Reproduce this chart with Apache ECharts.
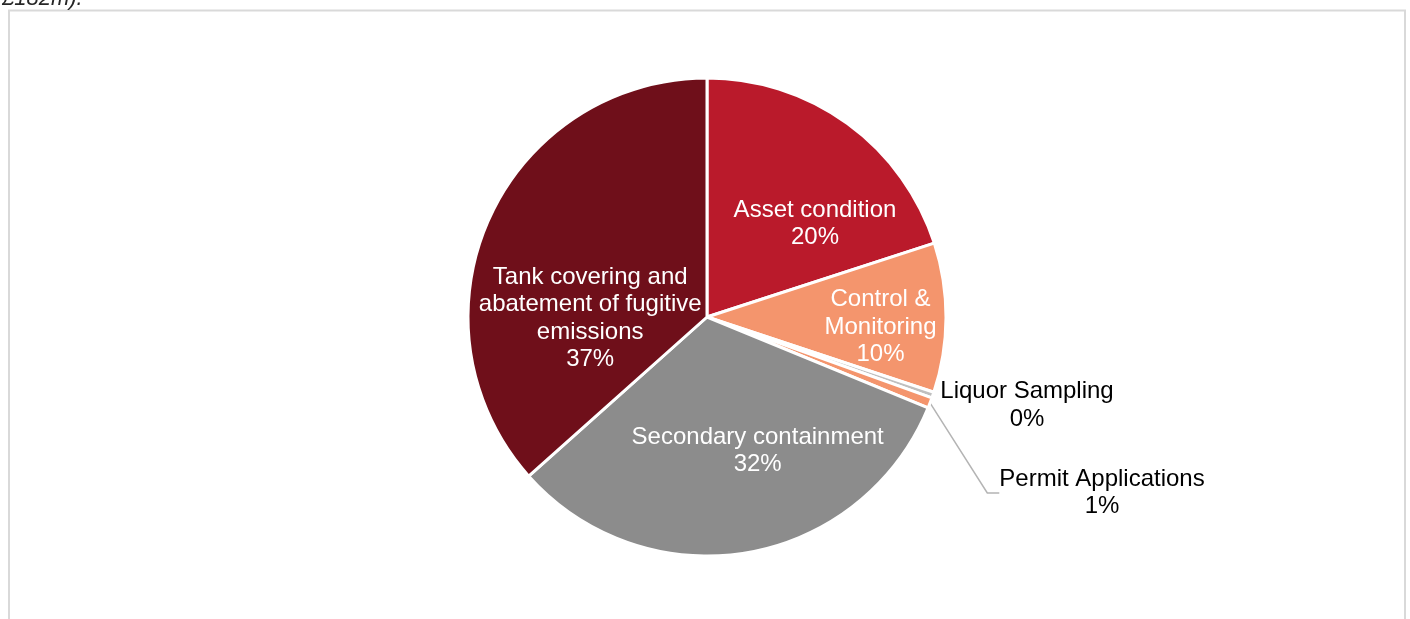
<!DOCTYPE html>
<html>
<head>
<meta charset="utf-8">
<title>Investment by category</title>
<script src="https://cdn.jsdelivr.net/npm/echarts@6/dist/echarts.min.js"></script>
<style>
  html, body { margin: 0; padding: 0; background: #ffffff; }
  #chart { width: 1410px; height: 619px; }
</style>
</head>
<body>
<div id="chart"></div>
<script>
// Spend categories (label text, with line breaks as displayed)
const categories = [
  'Asset condition',
  'Control &\nMonitoring',
  'Liquor Sampling',
  'Permit Applications',
  'Secondary containment',
  'Tank covering and\nabatement of fugitive\nemissions'
];
// Share of spend, %
const shares = [20.0, 10.1, 0.4, 0.7, 32.2, 36.6];
const colors = ['#BA1A2B', '#F4956D', '#BFBFBF', '#F4956D', '#8C8C8C', '#6F0F1A'];

// Label placement per slice: inside labels nudged from their default anchor,
// the two thin slices get their labels placed to the right of the pie.
const insideNudge = { 0: [36, 6], 1: [51, 9.5], 4: [30, 13], 5: [-5, 51.5] };
const outsideSpot = { 2: [1027, 405.5], 3: [1102, 493] };

const chart = echarts.init(document.getElementById('chart'), null, { renderer: 'canvas' });

const data = categories.map((name, i) => {
  const outside = i === 2 || i === 3;
  return {
    name: name,
    value: shares[i],
    itemStyle: { color: colors[i] },
    label: {
      position: outside ? 'outside' : 'inside',
      color: outside ? '#000000' : '#ffffff'
    },
    labelLine: { show: i === 3 }
  };
});

chart.setOption({
  animation: false,
  backgroundColor: '#ffffff',
  graphic: [
    {
      type: 'rect',
      shape: { x: 9, y: 10.5, width: 1396, height: 700 },
      style: { fill: 'none', stroke: '#D9D9D9', lineWidth: 2 },
      silent: true
    },
    {
      type: 'text',
      left: 2,
      top: -12,
      style: {
        text: '£182m).',
        font: 'italic 22px "Liberation Sans", Arial, sans-serif',
        fill: '#262626'
      },
      silent: true
    }
  ],
  series: [{
    type: 'pie',
    center: [707, 317],
    radius: [0, 239],
    startAngle: 90,
    clockwise: true,
    avoidLabelOverlap: false,
    emphasis: { disabled: true },
    itemStyle: { borderColor: '#ffffff', borderWidth: 3 },
    label: {
      show: true,
      fontFamily: '"Liberation Sans", Arial, sans-serif',
      fontSize: 24,
      lineHeight: 27.5,
      align: 'center',
      formatter: p => p.name + '\n' + Math.round(p.percent) + '%'
    },
    labelLine: {
      show: false,
      length: 20,
      length2: 12,
      lineStyle: { color: '#B4B4B4', width: 1.5 }
    },
    labelLayout: function (params) {
      const i = params.dataIndex;
      if (outsideSpot[i]) {
        return {
          x: outsideSpot[i][0],
          y: outsideSpot[i][1],
          align: 'center',
          verticalAlign: 'middle'
        };
      }
      const n = insideNudge[i] || [0, 0];
      return { dx: n[0], dy: n[1] };
    },
    data: data
  }]
});
</script>
</body>
</html>
